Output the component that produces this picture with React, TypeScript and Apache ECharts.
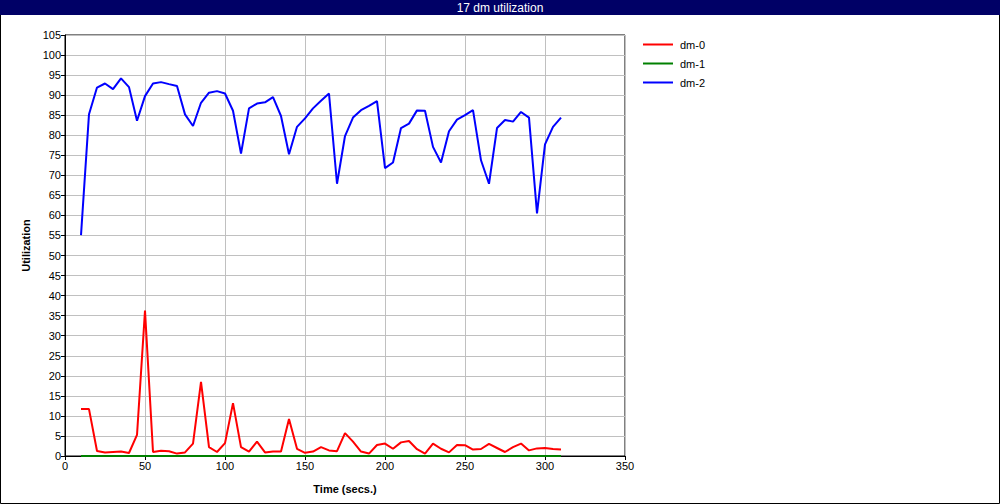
import React, { useEffect, useRef } from "react";
import * as echarts from "echarts";

const titleText = "17 dm utilization";
const seriesNames = ["dm-0", "dm-1", "dm-2"];
const seriesColors = ["#ff0000", "#008000", "#0000ff"];

const times = [
  10, 15, 20, 25, 30, 35, 40, 45, 50, 55, 60, 65, 70, 75, 80, 85, 90, 95, 100, 105,
  110, 115, 120, 125, 130, 135, 140, 145, 150, 155, 160, 165, 170, 175, 180, 185, 190, 195, 200, 205,
  210, 215, 220, 225, 230, 235, 240, 245, 250, 255, 260, 265, 270, 275, 280, 285, 290, 295, 300, 305, 310,
];

const dm0 = [
  11.7, 11.7, 1.25, 0.9, 1.0, 1.1, 0.75, 5.25, 36.25, 1.0, 1.3, 1.2, 0.6, 0.9, 3.1, 18.5, 2.2, 1.0, 3.2, 13.2,
  2.2, 1.1, 3.6, 0.9, 1.1, 1.1, 9.2, 1.8, 0.8, 1.1, 2.2, 1.4, 1.2, 5.7, 3.6, 1.1, 0.6, 2.75, 3.1, 1.8,
  3.4, 3.75, 1.7, 0.6, 3.1, 1.8, 0.9, 2.75, 2.7, 1.6, 1.75, 3.0, 2.0, 1.0, 2.2, 3.1, 1.4, 1.9, 2.0, 1.75, 1.6,
];

const dm1 = [
  0, 0, 0, 0, 0, 0, 0, 0, 0, 0, 0, 0, 0, 0, 0, 0, 0, 0, 0, 0,
  0, 0, 0, 0, 0, 0, 0, 0, 0, 0, 0, 0, 0, 0, 0, 0, 0, 0, 0, 0,
  0, 0, 0, 0, 0, 0, 0, 0, 0, 0, 0, 0, 0, 0, 0, 0, 0, 0, 0, 0, 0,
];

const dm2 = [
  55.1, 85.25, 91.9, 92.9, 91.5, 94.2, 92.0, 83.6, 89.75, 92.9, 93.25, 92.75, 92.3, 85.2, 82.3, 88.1, 90.6, 91.0, 90.4, 86.1,
  75.4, 86.7, 87.9, 88.2, 89.5, 84.8, 75.25, 82.1, 84.2, 86.7, 88.6, 90.4, 67.9, 79.8, 84.4, 86.25, 87.3, 88.5, 71.8, 73.2,
  81.8, 82.9, 86.2, 86.1, 77.1, 73.2, 81.0, 83.9, 85.0, 86.25, 73.75, 67.9, 81.8, 83.8, 83.4, 85.8, 84.4, 60.5, 77.7, 82.1, 84.4,
];

const xTicks = { min: 0, max: 350, interval: 50 };
const yTicks = { min: 0, max: 105, interval: 5 };

const FONT = "'Liberation Sans', Arial, sans-serif";

export default function App() {
  const ref = useRef<HTMLDivElement>(null);

  useEffect(() => {
    document.body.style.margin = "0";
    if (!ref.current) return;
    const chart = echarts.init(ref.current, null, { renderer: "svg" });
    const allValues = [dm0, dm1, dm2];
    const option: any = {
      animation: false,
      backgroundColor: "#ffffff",
      textStyle: { fontFamily: FONT },
      graphic: [
        {
          type: "rect",
          shape: { x: 0.5, y: 0.5, width: 999, height: 503 },
          style: { fill: "none", stroke: "#000000", lineWidth: 1 },
          z: 100,
        },
        {
          type: "rect",
          shape: { x: 0, y: 0, width: 1000, height: 15 },
          style: { fill: "#000066" },
          z: 101,
        },
        {
          type: "text",
          x: 500,
          y: 8,
          style: {
            text: titleText,
            fill: "#ffffff",
            font: `12px ${FONT}`,
            align: "center",
            verticalAlign: "middle",
          },
          z: 102,
        },
      ],
      grid: {
        show: true,
        left: 65,
        right: 375,
        top: 35,
        bottom: 48,
        borderColor: "#000000",
        borderWidth: 1,
        containLabel: false,
      },
      legend: {
        orient: "vertical",
        left: 638,
        top: 34,
        itemWidth: 30,
        itemHeight: 2,
        itemGap: 8,
        icon: "rect",
        textStyle: { fontFamily: FONT, fontSize: 11, color: "#000000", padding: [0, 0, 0, 2] },
        data: seriesNames,
      },
      xAxis: {
        type: "value",
        min: xTicks.min,
        max: xTicks.max,
        interval: xTicks.interval,
        name: "Time (secs.)",
        nameLocation: "middle",
        nameGap: 27,
        nameTextStyle: { fontFamily: FONT, fontSize: 11, fontWeight: "bold", color: "#000000" },
        axisLine: { show: true, lineStyle: { color: "#000000", width: 1 } },
        axisTick: { show: true, length: 4, lineStyle: { color: "#000000" } },
        axisLabel: { fontFamily: FONT, fontSize: 11, color: "#000000", margin: 4 },
        splitLine: { show: true, lineStyle: { color: "#c0c0c0", width: 1 } },
      },
      yAxis: {
        type: "value",
        min: yTicks.min,
        max: yTicks.max,
        interval: yTicks.interval,
        name: "Utilization",
        nameLocation: "middle",
        nameRotate: 90,
        nameGap: 26,
        nameTextStyle: { fontFamily: FONT, fontSize: 11, fontWeight: "bold", color: "#000000" },
        axisLine: { show: true, lineStyle: { color: "#000000", width: 1 } },
        axisTick: { show: true, length: 4, lineStyle: { color: "#000000" } },
        axisLabel: { fontFamily: FONT, fontSize: 11, color: "#000000", margin: 4 },
        splitLine: { show: true, lineStyle: { color: "#c0c0c0", width: 1 } },
      },
      series: seriesNames.map((name, i) => ({
        name,
        type: "line",
        data: times.map((t, j) => [t, allValues[i][j]]),
        showSymbol: false,
        symbol: "none",
        color: seriesColors[i],
        lineStyle: { color: seriesColors[i], width: 2 },
        z: 2 + i,
      })),
    };
    chart.setOption(option);
    return () => chart.dispose();
  }, []);

  return <div ref={ref} style={{ width: 1000, height: 504 }} />;
}
